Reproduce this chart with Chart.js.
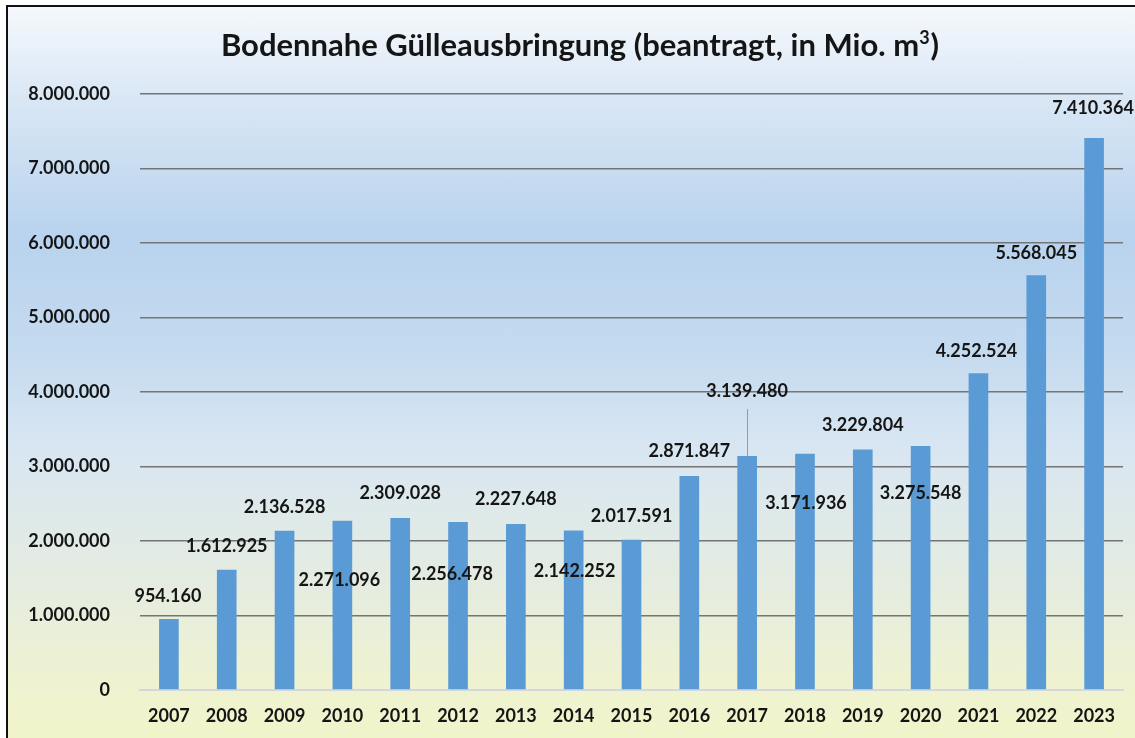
<!DOCTYPE html>
<html><head><meta charset="utf-8">
<script src="https://cdn.jsdelivr.net/npm/chart.js@4/dist/chart.umd.min.js"></script>
<style>
html,body{margin:0;padding:0;background:#fff;width:1135px;height:738px;overflow:hidden}
#frame{position:absolute;left:6px;top:5px;width:1150px;height:760px;border:2px solid #111;
background:linear-gradient(to bottom,#f5f8fc 0%,#d9e7f5 12%,#b9d3ee 30%,#c4daef 45%,#d8e6f2 58%,#e4ece1 75%,#eef2d2 88%,#f3f6c6 100%)}
#wrap{position:absolute;left:0;top:0;width:1135px;height:738px}
</style></head>
<body><div id="frame"></div><div id="wrap"><canvas id="c" width="1135" height="738"></canvas></div>
<script>
const years = ['2007','2008','2009','2010','2011','2012','2013','2014','2015','2016','2017','2018','2019','2020','2021','2022','2023'];
const values = [954160,1612925,2136528,2271096,2309028,2256478,2227648,2142252,2017591,2871847,3139480,3171936,3229804,3275548,4252524,5568045,7410364];
const yMax = 8000000;
const yStep = 1000000;
const titleMain = 'Bodennahe Gülleausbringung (beantragt, in Mio. m';
const titleSup = '3';
const titleEnd = ')';
// manual label placement as in the original (px offsets of label centre from bar top)
const labelOffsetY = [-23,-24,-24,59,-25,52,-25,41,-24,-25,-65,49,-24,47,-22,-22,-30];
const labelOffsetX = [-1,0,0,-3,0,-6,0,1,0,0,0,1,0,0,-2,0,-1];
const leaderIdx = [10];

const fmt = v => String(Math.round(v)).replace(/\B(?=(\d{3})+(?!\d))/g,'.');
const FONT = 'Lato, "Open Sans", sans-serif';
const TXT = '#151515';

const titlePlugin = {
  id:'titleDraw',
  afterDraw(chart){
    const ctx = chart.ctx;
    ctx.save();
    ctx.fillStyle = TXT;
    ctx.textBaseline = 'alphabetic';
    const big = 'bold 31px ' + FONT, small = 'bold 18px ' + FONT;
    ctx.font = big; const w1 = ctx.measureText(titleMain).width; const w3 = ctx.measureText(titleEnd).width;
    ctx.font = small; const w2 = ctx.measureText(titleSup).width;
    const total = w1 + w2 + 1 + w3;
    let x = 580 - total/2; const y = 56;
    ctx.textAlign = 'left';
    ctx.font = big; ctx.fillText(titleMain, x, y); x += w1;
    ctx.font = small; ctx.fillText(titleSup, x, y - 12); x += w2 + 1;
    ctx.font = big; ctx.fillText(titleEnd, x, y);
    ctx.restore();
  }
};

const labelPlugin = {
  id:'barLabels',
  afterDatasetsDraw(chart){
    const ctx = chart.ctx;
    const meta = chart.getDatasetMeta(0);
    ctx.save();
    ctx.font = 'bold 18px ' + FONT;
    ctx.fillStyle = TXT;
    ctx.textAlign = 'center';
    ctx.textBaseline = 'middle';
    meta.data.forEach((bar, i) => {
      const x = bar.x + labelOffsetX[i];
      const y = bar.y + labelOffsetY[i];
      if (leaderIdx.includes(i)) {
        ctx.save();
        ctx.strokeStyle = '#9a9a9a'; ctx.lineWidth = 1;
        ctx.beginPath(); ctx.moveTo(Math.round(bar.x)+0.5, y + 18); ctx.lineTo(Math.round(bar.x)+0.5, bar.y); ctx.stroke();
        ctx.restore();
      }
      ctx.fillText(fmt(values[i]), x, y);
    });
    ctx.restore();
  }
};

new Chart(document.getElementById('c'), {
  type:'bar',
  data:{ labels: years, datasets:[{ data: values, backgroundColor:'#5b9bd5', borderWidth:0, barPercentage:0.34, categoryPercentage:1 }] },
  options:{
    responsive:false, animation:false, devicePixelRatio:1,
    layout:{ padding:{ left:10, right:12, top:94, bottom:6 } },
    plugins:{ legend:{display:false}, title:{display:false}, tooltip:{enabled:false} },
    scales:{
      x:{
        grid:{ display:false, drawTicks:false },
        border:{ display:true, color:'#d4d8dc', width:2 },
        ticks:{ color:TXT, font:{ family:FONT, size:18, weight:'bold' }, padding:15, maxRotation:0, autoSkip:false },
        afterFit(s){ s.height = 42; }
      },
      y:{
        min:0, max:yMax,
        grid:{ color: c => c.tick.value === 0 ? 'rgba(0,0,0,0)' : '#757575', lineWidth:1.6, drawTicks:false },
        border:{ display:false },
        ticks:{ stepSize:yStep, color:TXT, font:{ family:FONT, size:18, weight:'bold' }, padding:30, callback: v => fmt(v) },
        afterFit(s){ s.width = 130; }
      }
    }
  },
  plugins:[titlePlugin, labelPlugin]
});
</script>
</body></html>
